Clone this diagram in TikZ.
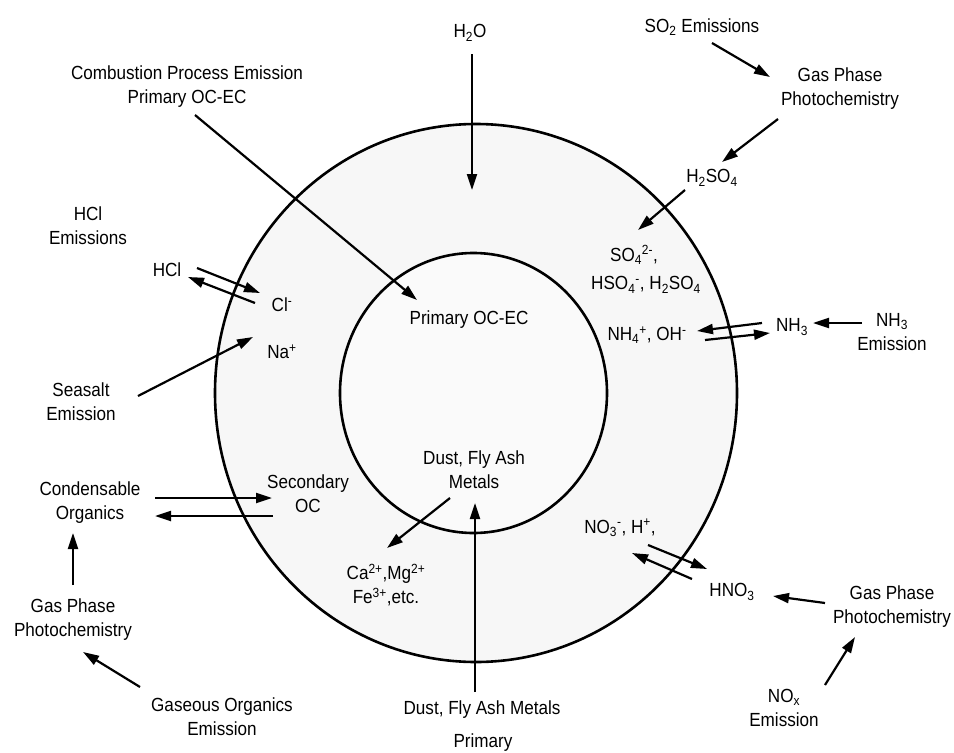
\documentclass[tikz,border=0pt]{standalone}
\usepackage{fontspec}
\setmainfont{Liberation Sans}[FakeStretch=0.9]
\usetikzlibrary{arrows.meta,calc}
\begin{document}
\begin{tikzpicture}[x=1pt,y=-1pt,
  lbl/.style={inner sep=0pt, align=center, font=\fontsize{19}{24}\selectfont},
  arr/.style={line width=2.2pt, -{Triangle[length=16pt,width=10pt]}},
  ring/.style={line width=2.6pt}]
\useasboundingbox (0,0) rectangle (954,753);
\fill[white] (0,0) rectangle (954,753);
% rings
\draw[ring, fill=black!3] (476,393) ellipse [x radius=261pt, y radius=269pt];
\draw[ring, fill=black!2] (473.5,393) ellipse [x radius=133.5pt, y radius=140pt];

% labels
\node[lbl] (h2o) at (470,33) {H\textsubscript{2}O};
\node[lbl] (comb) at (187,87) {Combustion Process Emission\\Primary OC-EC};
\node[lbl] (poc) at (469,320) {Primary OC-EC};
\node[lbl] (so2) at (702,27) {SO\textsubscript{2} Emissions};
\node[lbl] (gpa) at (840,89) {Gas Phase\\Photochemistry};
\node[lbl] (h2so4) at (712,178) {H\textsubscript{2}SO\textsubscript{4}};
\node[lbl] (so4) at (634,255) {SO\textsubscript{4}\textsuperscript{2-},};
\node[lbl] (hso4) at (646,285) {HSO\textsubscript{4}\textsuperscript{-}, H\textsubscript{2}SO\textsubscript{4}};
\node[lbl] (nh4) at (647,335) {NH\textsubscript{4}\textsuperscript{+}, OH\textsuperscript{-}};
\node[lbl] (nh3) at (792,327) {NH\textsubscript{3}};
\node[lbl] (nh3e) at (892,332) {NH\textsubscript{3}\\Emission};
\node[lbl] (hcle) at (88,226) {HCl\\Emissions};
\node[lbl] (hcl) at (167,270) {HCl};
\node[lbl] (cl) at (282,305) {Cl\textsuperscript{-}};
\node[lbl] (na) at (282,352) {Na\textsuperscript{+}};
\node[lbl] (seasalt) at (81,402) {Seasalt\\Emission};
\node[lbl] (cond) at (90,503) {Condensable\\Organics};
\node[lbl] (soc) at (308,494) {Secondary\\OC};
\node[lbl] (gpb) at (73,620) {Gas Phase\\Photochemistry};
\node[lbl] (goe) at (222,717) {Gaseous Organics\\Emission};
\node[lbl] (dfa) at (474,470) {Dust, Fly Ash\\Metals};
\node[lbl] (ca) at (386,585) {Ca\textsuperscript{2+},Mg\textsuperscript{2+}\\Fe\textsuperscript{3+},etc.};
\node[lbl] (dfab) at (482,710) {Dust, Fly Ash Metals};
\node[lbl] (prim) at (483,743) {Primary};
\node[lbl] (no3) at (620,528) {NO\textsubscript{3}\textsuperscript{-}, H\textsuperscript{+},};
\node[lbl] (hno3) at (732,592) {HNO\textsubscript{3}};
\node[lbl] (gpc) at (892,607) {Gas Phase\\Photochemistry};
\node[lbl] (nox) at (784,708) {NO\textsubscript{x}\\Emission};
\coordinate (h2oend) at (472,190);

% connectors
\draw[arr] ($(h2o)+(2,21)$) -- (h2oend);
\draw[arr] ($(comb)+(8,28)$) -- ($(poc)+(-52,-20)$);
\draw[arr] ($(so2)+(10,16)$) -- ($(gpa)+(-70,-12)$);
\draw[arr] ($(gpa)+(-62,30)$) -- ($(h2so4)+(10,-16)$);
\draw[arr] ($(h2so4)+(-27,12)$) -- ($(so4)+(4,-25)$);
\draw[arr] ($(nh3)+(-30,-4)$) -- ($(nh4)+(50,-4)$);
\draw[arr] ($(nh4)+(58,5)$) -- ($(nh3)+(-22,6)$);
\draw[arr] ($(nh3e)+(-30,-9)$) -- ($(nh3)+(21,-4)$);
\draw[arr] ($(hcl)+(30,-2)$) -- ($(cl)+(-22,-12)$);
\draw[arr] ($(cl)+(-27,-2)$) -- ($(hcl)+(21,7)$);
\draw[arr] ($(seasalt)+(57,-6)$) -- ($(na)+(-29,-15)$);
\draw[arr] ($(cond)+(65,-5)$) -- ($(soc)+(-36,4)$);
\draw[arr] ($(soc)+(-35,22)$) -- ($(cond)+(65,13)$);
\draw[arr] ($(gpb)+(0,-35)$) -- ($(cond)+(-17,30)$);
\draw[arr] ($(goe)+(-82,-30)$) -- ($(gpb)+(10,32)$);
\draw[arr] ($(dfa)+(-24,28)$) -- ($(ca)+(1,-37)$);
\draw[arr] ($(dfab)+(-7,-18)$) -- ($(dfa)+(1,33)$);
\draw[arr] ($(no3)+(28,17)$) -- ($(hno3)+(-25,-23)$);
\draw[arr] ($(hno3)+(-40,-13)$) -- ($(no3)+(12,25)$);
\draw[arr] ($(gpc)+(-67,-4)$) -- ($(hno3)+(41,4)$);
\draw[arr] ($(nox)+(41,-23)$) -- ($(gpc)+(-37,30)$);
\end{tikzpicture}
\end{document}
